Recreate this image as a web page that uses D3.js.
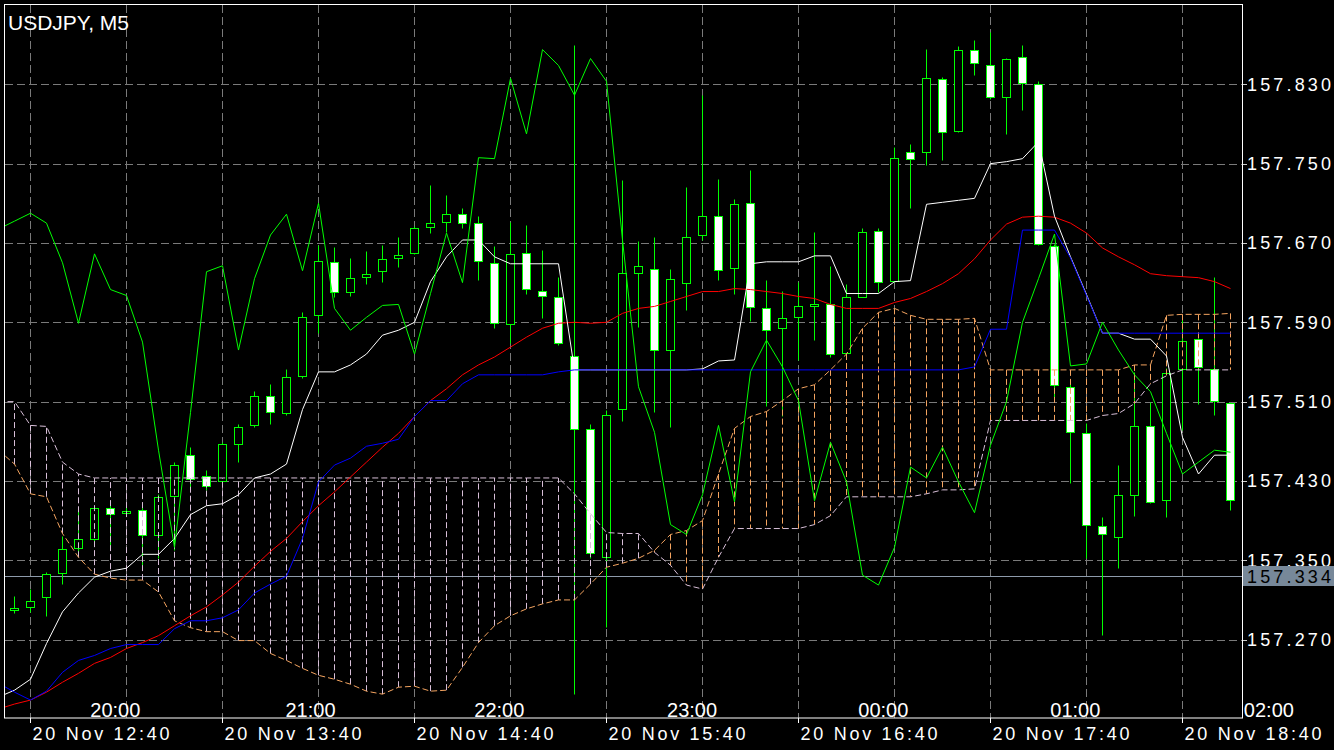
<!DOCTYPE html>
<html><head><meta charset="utf-8">
<script src="https://cdn.jsdelivr.net/npm/d3@7"></script>
<style>html,body{margin:0;padding:0;background:#000;overflow:hidden}</style>
</head><body><svg id="c" width="1334" height="750"></svg>
<script>
// ---- data (bars 0..76, 5-minute USDJPY) ----
const candleOpen = [157.300,157.303,157.313,157.337,157.362,157.371,157.403,157.398,157.401,157.375,157.415,157.456,157.435,157.430,157.467,157.486,157.516,157.499,157.536,157.597,157.651,157.621,157.636,157.642,157.655,157.660,157.686,157.691,157.699,157.690,157.650,157.588,157.660,157.622,157.616,157.556,157.482,157.353,157.503,157.640,157.644,157.562,157.630,157.678,157.697,157.645,157.710,157.604,157.584,157.595,157.606,157.608,157.559,157.616,157.682,157.632,157.762,157.762,157.835,157.783,157.865,157.849,157.817,157.858,157.830,157.667,157.525,157.478,157.385,157.373,157.416,157.485,157.411,157.543,157.573,157.543,157.509];
const candleHigh = [157.314,157.321,157.338,157.374,157.402,157.405,157.409,157.405,157.404,157.417,157.449,157.464,157.441,157.469,157.487,157.521,157.528,157.543,157.600,157.668,157.666,157.655,157.662,157.668,157.676,157.687,157.728,157.718,157.705,157.697,157.667,157.691,157.688,157.663,157.636,157.870,157.487,157.502,157.733,157.672,157.676,157.644,157.726,157.819,157.734,157.714,157.744,157.633,157.622,157.631,157.681,157.647,157.629,157.685,157.685,157.767,157.770,157.866,157.837,157.869,157.875,157.883,157.857,157.870,157.833,157.669,157.532,157.488,157.394,157.446,157.540,157.510,157.544,157.594,157.574,157.636,157.510];
const candleLow = [157.297,157.298,157.294,157.326,157.355,157.367,157.365,157.396,157.345,157.352,157.360,157.423,157.421,157.428,157.449,157.484,157.487,157.496,157.534,157.579,157.616,157.617,157.629,157.631,157.646,157.659,157.680,157.681,157.685,157.633,157.584,157.569,157.619,157.594,157.567,157.215,157.352,157.283,157.490,157.585,157.500,157.484,157.602,157.673,157.633,157.619,157.591,157.506,157.495,157.552,157.572,157.555,157.557,157.615,157.621,157.631,157.705,157.749,157.754,157.782,157.839,157.815,157.780,157.804,157.668,157.511,157.428,157.352,157.275,157.342,157.395,157.408,157.394,157.481,157.508,157.496,157.401];
const candleClose = [157.302,157.309,157.336,157.361,157.371,157.403,157.397,157.400,157.375,157.414,157.446,157.432,157.425,157.467,157.484,157.516,157.500,157.535,157.595,157.652,157.621,157.635,157.639,157.654,157.658,157.685,157.690,157.699,157.690,157.652,157.589,157.659,157.624,157.617,157.569,157.482,157.357,157.497,157.640,157.647,157.562,157.634,157.676,157.697,157.643,157.709,157.605,157.582,157.594,157.606,157.608,157.558,157.616,157.681,157.631,157.756,157.755,157.836,157.782,157.865,157.851,157.817,157.856,157.831,157.669,157.527,157.479,157.386,157.376,157.416,157.485,157.409,157.539,157.571,157.545,157.511,157.411];

// indicator lines: values for bars -1..76
const lineFirstBar = -1;
const tenkanSen = [157.212,157.219,157.230,157.266,157.298,157.317,157.333,157.339,157.342,157.356,157.356,157.372,157.396,157.405,157.407,157.416,157.433,157.437,157.447,157.502,157.540,157.540,157.547,157.558,157.577,157.582,157.590,157.631,157.656,157.673,157.673,157.656,157.649,157.649,157.649,157.649,157.542,157.542,157.542,157.542,157.542,157.542,157.542,157.542,157.543,157.551,157.552,157.649,157.651,157.651,157.651,157.657,157.657,157.619,157.619,157.619,157.631,157.632,157.709,157.711,157.713,157.715,157.750,157.752,157.755,157.772,157.697,157.656,157.618,157.579,157.579,157.573,157.573,157.556,157.474,157.437,157.456,157.456];
const kijunSen = [157.226,157.217,157.209,157.218,157.237,157.249,157.254,157.261,157.265,157.265,157.265,157.281,157.289,157.289,157.292,157.300,157.317,157.326,157.334,157.372,157.429,157.446,157.453,157.465,157.468,157.472,157.495,157.511,157.511,157.528,157.537,157.537,157.537,157.537,157.537,157.540,157.542,157.542,157.542,157.542,157.542,157.542,157.542,157.542,157.542,157.542,157.542,157.542,157.542,157.542,157.542,157.542,157.542,157.542,157.542,157.542,157.542,157.542,157.542,157.542,157.542,157.545,157.583,157.583,157.683,157.683,157.683,157.655,157.617,157.579,157.579,157.579,157.579,157.579,157.579,157.579,157.579,157.579];
const movingAverage = [157.200,157.205,157.209,157.217,157.227,157.236,157.246,157.252,157.261,157.267,157.274,157.284,157.294,157.303,157.315,157.328,157.344,157.359,157.372,157.389,157.405,157.419,157.434,157.449,157.464,157.478,157.495,157.511,157.523,157.537,157.547,157.555,157.565,157.575,157.584,157.589,157.590,157.589,157.590,157.599,157.604,157.606,157.611,157.616,157.621,157.621,157.624,157.623,157.621,157.619,157.616,157.614,157.608,157.604,157.604,157.604,157.610,157.614,157.621,157.629,157.639,157.654,157.673,157.689,157.696,157.697,157.696,157.690,157.680,157.665,157.656,157.648,157.639,157.637,157.636,157.635,157.631,157.624];
const senkouSpanA = [157.461,157.447,157.417,157.414,157.377,157.353,157.336,157.332,157.330,157.330,157.318,157.289,157.282,157.278,157.278,157.269,157.269,157.256,157.249,157.241,157.234,157.230,157.225,157.218,157.215,157.222,157.223,157.218,157.219,157.242,157.267,157.284,157.294,157.301,157.306,157.310,157.310,157.326,157.343,157.347,157.352,157.360,157.376,157.380,157.390,157.437,157.483,157.495,157.500,157.511,157.523,157.527,157.542,157.558,157.584,157.600,157.604,157.597,157.593,157.593,157.593,157.594,157.542,157.542,157.542,157.542,157.542,157.542,157.542,157.542,157.542,157.547,157.547,157.597,157.598,157.598,157.598,157.599];
const senkouSpanB = [157.510,157.510,157.486,157.485,157.449,157.437,157.433,157.433,157.433,157.433,157.433,157.433,157.433,157.433,157.433,157.433,157.433,157.433,157.433,157.433,157.433,157.433,157.433,157.433,157.433,157.433,157.433,157.433,157.433,157.433,157.433,157.433,157.433,157.433,157.433,157.433,157.417,157.397,157.378,157.377,157.377,157.358,157.345,157.325,157.321,157.353,157.382,157.382,157.382,157.382,157.382,157.386,157.395,157.414,157.414,157.414,157.414,157.414,157.417,157.421,157.421,157.422,157.491,157.491,157.491,157.491,157.491,157.491,157.491,157.496,157.498,157.508,157.528,157.536,157.542,157.542,157.542,157.542];
const chikouSpan = [157.684,157.692,157.700,157.690,157.650,157.589,157.659,157.623,157.617,157.570,157.461,157.363,157.499,157.641,157.647,157.562,157.634,157.678,157.699,157.642,157.710,157.604,157.582,157.595,157.607,157.608,157.558,157.619,157.680,157.630,157.756,157.755,157.836,157.780,157.865,157.849,157.819,157.856,157.833,157.673,157.525,157.479,157.386,157.376,157.416,157.486,157.409,157.540,157.572,157.545,157.511,157.410,157.469,157.429,157.335,157.325,157.363,157.444,157.433,157.464,157.429,157.398,157.466,157.510,157.590,157.634,157.679,157.546,157.548,157.590,157.562,157.537,157.520,157.478,157.437,157.449,157.461,157.459];

const priceTicks = [157.270,157.350,157.430,157.510,157.590,157.670,157.750,157.830];
const gridBars = [1,7,13,19,25,31,37,43,49,55,61,67,73];
const dateLabels = ["20 Nov 12:40","20 Nov 13:40","20 Nov 14:40","20 Nov 15:40","20 Nov 16:40","20 Nov 17:40","20 Nov 18:40"];
const dateLabelBars = [1,13,25,37,49,61,73];
const hourLabels = ["20:00","21:00","22:00","23:00","00:00","01:00","02:00"];
const hourLabelBars = [6.3,18.5,30.3,42.35,54.3,66.3,78.4];
const currentPrice = 157.334;
const title = "USDJPY, M5";

// ---- drawing ----
const W = 1334, H = 750;
const x = d3.scaleLinear().domain([0, 76]).range([14.5, 1230.5]);
const y = d3.scaleLinear().domain([157.270, 157.830]).range([639.6, 84.3]);
const yr = v => Math.round(y(v)) + 0.5;
const FONT = "'Liberation Sans', Arial, sans-serif";

const svg = d3.select('#c');
svg.append('rect').attr('width', W).attr('height', H).attr('fill', '#000');
svg.append('defs').append('clipPath').attr('id', 'clip')
  .append('rect').attr('x', 5).attr('y', 5).attr('width', 1237).attr('height', 713);
const g = svg.append('g').attr('clip-path', 'url(#clip)');

// grid
g.selectAll('line.hg').data(priceTicks).join('line').attr('class', 'hg')
  .attr('x1', 5).attr('x2', 1242).attr('y1', yr).attr('y2', yr)
  .attr('stroke', '#7a7a7a').attr('stroke-dasharray', '8,4');
g.selectAll('line.vg').data(gridBars).join('line').attr('class', 'vg')
  .attr('x1', d => x(d)).attr('x2', d => x(d)).attr('y1', 5).attr('y2', 718)
  .attr('stroke', '#7a7a7a').attr('stroke-dasharray', '8,4');

// current price line
g.append('line').attr('x1', 5).attr('x2', 1242).attr('y1', yr(currentPrice)).attr('y2', yr(currentPrice))
  .attr('stroke', '#8d9aaa');

// candles
const bars = d3.range(candleOpen.length).map(i => ({i, o: candleOpen[i], h: candleHigh[i], l: candleLow[i], c: candleClose[i]}));
g.selectAll('line.wick').data(bars).join('line').attr('class', 'wick')
  .attr('x1', d => x(d.i)).attr('x2', d => x(d.i))
  .attr('y1', d => yr(d.h)).attr('y2', d => yr(d.l)).attr('stroke', '#00ff00');
g.selectAll('rect.body').data(bars).join('rect').attr('class', 'body')
  .attr('x', d => x(d.i) - 4).attr('width', 8)
  .attr('y', d => Math.round(y(Math.max(d.o, d.c))) + 0.5)
  .attr('height', d => Math.max(1, Math.round(y(Math.min(d.o, d.c))) - Math.round(y(Math.max(d.o, d.c)))))
  .attr('fill', d => d.c < d.o ? '#ffffff' : '#000000')
  .attr('stroke', '#00ff00');

// Ichimoku cloud hatch
const cloud = senkouSpanA.map((a, k) => ({bar: k + lineFirstBar, a, b: senkouSpanB[k]}));
g.selectAll('line.hatch').data(cloud).join('line').attr('class', 'hatch')
  .attr('x1', d => x(d.bar)).attr('x2', d => x(d.bar))
  .attr('y1', d => y(d.a)).attr('y2', d => y(d.b))
  .attr('stroke', d => d.a >= d.b ? '#f4a460' : '#d8bfd8')
  .attr('stroke-dasharray', '6,3');

function drawLine(arr, color, dash) {
  const ln = d3.line().x((d, k) => x(k + lineFirstBar)).y(d => y(d));
  const p = g.append('path').attr('d', ln(arr)).attr('fill', 'none').attr('stroke', color).attr('stroke-width', 1);
  if (dash) p.attr('stroke-dasharray', dash);
}
drawLine(senkouSpanA, '#f4a460', '6,3');
drawLine(senkouSpanB, '#d8bfd8', '6,3');
drawLine(movingAverage, '#ff0000');
drawLine(tenkanSen, '#ffffff');
drawLine(kijunSen, '#0000ff');
drawLine(chikouSpan, '#00ff00');

// border
svg.append('rect').attr('x', 4.5).attr('y', 4.5).attr('width', 1238).attr('height', 713.5)
  .attr('fill', 'none').attr('stroke', '#ffffff');

// price axis
svg.selectAll('line.pt').data(priceTicks).join('line').attr('class', 'pt')
  .attr('x1', 1243).attr('x2', 1247).attr('y1', yr).attr('y2', yr).attr('stroke', '#cccccc');
svg.selectAll('text.pl').data(priceTicks).join('text').attr('class', 'pl')
  .attr('x', 1247).attr('y', d => y(d) + 6.5)
  .attr('fill', '#ffffff').attr('font-family', FONT).attr('font-size', 18)
  .attr('textLength', 84).attr('lengthAdjust', 'spacing')
  .text(d => d.toFixed(3));

// current price label
svg.append('rect').attr('x', 1243).attr('y', Math.round(y(currentPrice)) - 10).attr('width', 91).attr('height', 20)
  .attr('fill', '#778899');
svg.append('text').attr('x', 1247).attr('y', y(currentPrice) + 6.5)
  .attr('fill', '#000000').attr('font-family', FONT).attr('font-size', 18)
  .attr('textLength', 84).attr('lengthAdjust', 'spacing').text(currentPrice.toFixed(3));

// time axis
svg.selectAll('line.tt').data(dateLabelBars).join('line').attr('class', 'tt')
  .attr('x1', d => x(d)).attr('x2', d => x(d)).attr('y1', 718).attr('y2', 723).attr('stroke', '#ffffff');
svg.selectAll('text.tl').data(dateLabels).join('text').attr('class', 'tl')
  .attr('x', (d, k) => x(dateLabelBars[k]) + 2).attr('y', 740)
  .attr('fill', '#ffffff').attr('font-family', FONT).attr('font-size', 18)
  .attr('textLength', 137).attr('lengthAdjust', 'spacing')
  .text(d => d);

// hour labels inside chart
svg.selectAll('text.hl').data(hourLabels).join('text').attr('class', 'hl')
  .attr('x', (d, k) => x(hourLabelBars[k])).attr('y', 716.5)
  .attr('text-anchor', 'middle')
  .attr('fill', '#ffffff').attr('font-family', FONT).attr('font-size', 20)
  .text(d => d);

// title
svg.append('text').attr('x', 8).attr('y', 29.5).attr('fill', '#ffffff')
  .attr('font-family', FONT).attr('font-size', 21).text(title);
</script>
</body></html>
